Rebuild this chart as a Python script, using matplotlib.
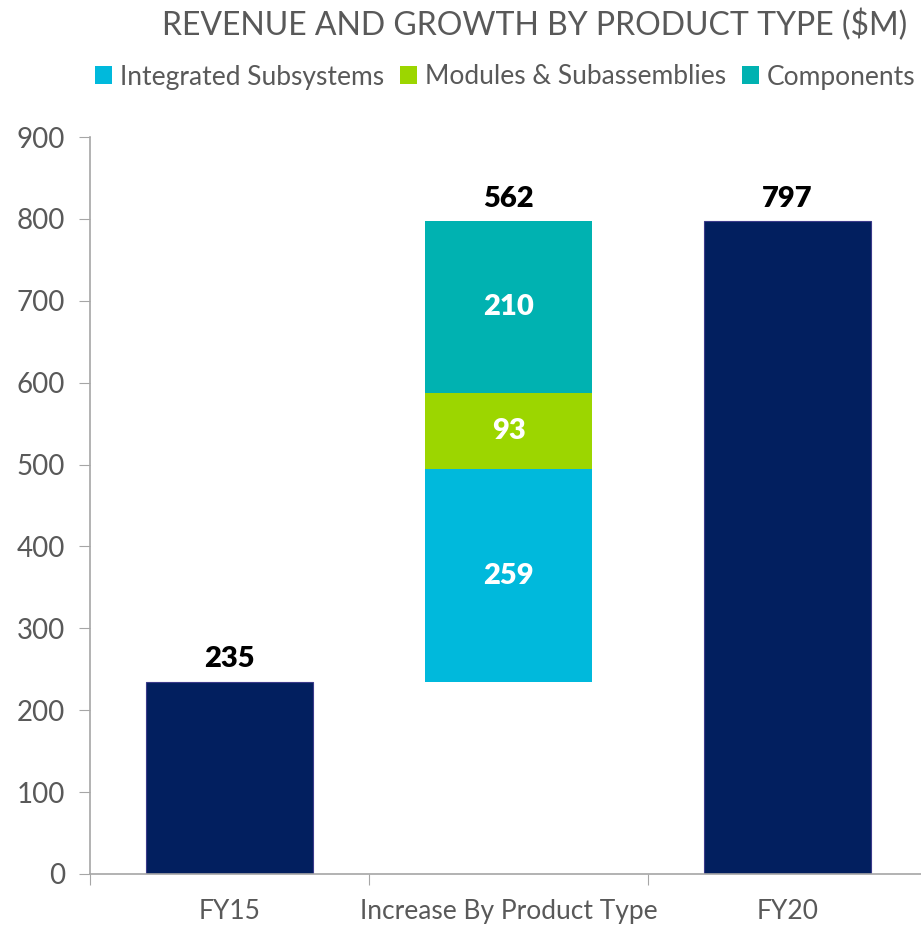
import matplotlib.pyplot as plt
from matplotlib.patches import Patch

plt.rcParams["font.family"] = ["Lato", "DejaVu Sans"]

categories = ["FY15", "Increase By Product Type", "FY20"]
totals = [235, 562, 797]
segment_names = ["Integrated Subsystems", "Modules & Subassemblies", "Components"]
segment_values = [259, 93, 210]
segment_colors = ["#00B9DC", "#9CD600", "#00B2B1"]
navy = "#021F5F"
grey = "#595959"

fig = plt.figure(figsize=(9.21, 9.25), dpi=100)
ax = fig.add_axes([90 / 921, 51 / 925, 831 / 921, 737 / 925])

w = 0.6
ax.bar(0, totals[0], width=w, color=navy, edgecolor="#3B3B8A", linewidth=0.8)
ax.bar(2, totals[2], width=w, color=navy, edgecolor="#3B3B8A", linewidth=0.8)

bottom = totals[0]
for name, val, col in zip(segment_names, segment_values, segment_colors):
    ax.bar(1, val, bottom=bottom, width=w, color=col, linewidth=0)
    ax.text(1, bottom + val / 2, str(val), ha="center", va="center",
            color="white", fontsize=21, fontweight="heavy")
    bottom += val

ax.text(0, totals[0] + 12, str(totals[0]), ha="center", va="bottom",
        fontsize=21, fontweight="heavy", color="black")
ax.text(1, totals[0] + totals[1] + 12, str(totals[1]), ha="center", va="bottom",
        fontsize=21, fontweight="heavy", color="black")
ax.text(2, totals[2] + 12, str(totals[2]), ha="center", va="bottom",
        fontsize=21, fontweight="heavy", color="black")

ax.set_ylim(0, 900)
ax.set_yticks(range(0, 901, 100))
ax.set_xlim(-0.5, 2.5 - 6 / 279)
ax.set_xticks([-0.5, 0.5, 1.5])
ax.set_xticklabels([])
ax.tick_params(axis="x", length=8, color="#A6A6A6", direction="out")
ax.tick_params(axis="y", length=8, color="#A6A6A6", direction="out",
               labelsize=20, labelcolor=grey, pad=10)
for i, c in enumerate(categories):
    ax.text(i, -30, c, ha="center", va="top", fontsize=19, color=grey,
            transform=ax.transData, clip_on=False)

for s in ["top", "right"]:
    ax.spines[s].set_visible(False)
for s in ["left", "bottom"]:
    ax.spines[s].set_color("#A6A6A6")
    ax.spines[s].set_linewidth(1.2)

fig.text(535 / 921, 1 - 25 / 925, "REVENUE AND GROWTH BY PRODUCT TYPE ($M)",
         ha="center", va="center", fontsize=23, color=grey)

handles = [Patch(facecolor=c, label=n) for n, c in zip(segment_names, segment_colors)]
fig.legend(handles=handles, loc="center", bbox_to_anchor=(505 / 921, 1 - 77 / 925),
           ncol=3, frameon=False, fontsize=19, labelcolor=grey,
           handlelength=0.65, handleheight=0.65, handletextpad=0.3, columnspacing=0.6)

fig.savefig("out.png", dpi=100)
